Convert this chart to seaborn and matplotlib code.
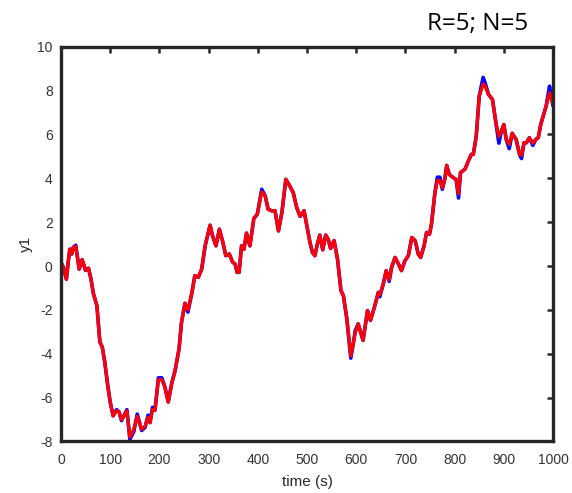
import pandas as pd
import seaborn as sns
import matplotlib.pyplot as plt

# time samples (s)
time_s = [0, 5, 11, 15, 18, 22, 25, 30, 37, 43, 50, 56, 61, 66, 73, 79, 84, 89, 95, 100,
          106, 113, 118, 123, 134, 140, 148, 155, 164, 171, 177, 181, 186, 191, 198, 205, 211, 218, 225, 232,
          240, 245, 252, 258, 266, 272, 279, 286, 293, 303, 308, 315, 322, 329, 335, 342, 349, 354, 358, 362,
          367, 372, 377, 384, 392, 399, 408, 415, 421, 428, 435, 442, 449, 457, 465, 472, 479, 486, 494, 499,
          506, 511, 516, 521, 526, 532, 538, 543, 548, 555, 562, 569, 574, 581, 589, 594, 598, 604, 609, 614,
          623, 629, 637, 645, 648, 655, 661, 667, 672, 679, 686, 692, 699, 706, 713, 720, 726, 731, 738, 743,
          749, 753, 760, 765, 770, 775, 780, 784, 789, 797, 803, 808, 812, 821, 828, 834, 838, 844, 850, 858,
          862, 869, 877, 884, 890, 895, 900, 905, 911, 917, 925, 932, 936, 941, 946, 952, 959, 965, 970, 975,
          980, 986, 993, 995, 1000]

# blue trace
y1_blue = [0.17, -0.06, -0.6, 0.24, 0.77, 0.55, 0.85, 0.95, -0.14, 0.29, -0.2, -0.1, -0.6, -1.27, -1.8, -3.46, -3.7, -4.38, -5.44, -6.2,
           -6.83, -6.55, -6.65, -7.05, -6.55, -7.9, -7.55, -6.75, -7.5, -7.35, -6.8, -7.14, -6.45, -6.58, -5.1, -5.1, -5.5, -6.2, -5.36, -4.76,
           -3.77, -2.56, -1.7, -2.1, -1.23, -0.44, -0.52, -0.14, 0.92, 1.86, 1.38, 0.92, 1.68, 1.08, 0.47, 0.55, 0.17, 0.09, -0.29, -0.29,
           0.92, 0.77, 1.5, 0.92, 2.17, 2.36, 3.5, 3.2, 2.59, 2.52, 2.52, 1.6, 2.44, 3.95, 3.65, 3.35, 2.67, 2.26, 2.52, 1.91,
           1.08, 0.62, 0.47, 1.0, 1.41, 0.74, 1.41, 1.23, 0.8, 1.16, 0.32, -1.12, -1.35, -2.41, -4.2, -3.55, -2.95, -2.64, -3.02, -3.39,
           -2.03, -2.48, -1.88, -1.2, -1.4, -0.82, -0.21, -0.7, -0.06, 0.39, 0.09, -0.21, 0.24, 0.47, 1.3, 1.15, 0.55, 0.39, 0.92, 1.53,
           1.45, 1.91, 3.35, 4.05, 4.05, 3.5, 3.95, 4.59, 4.18, 4.03, 3.95, 3.1, 4.26, 4.41, 4.79, 5.09, 5.09, 5.92, 7.74, 8.6,
           8.35, 7.82, 7.59, 6.53, 5.6, 6.15, 6.45, 5.77, 5.35, 6.05, 5.77, 5.09, 4.9, 5.62, 5.62, 5.85, 5.5, 5.77, 5.85, 6.45,
           6.83, 7.29, 8.2, 7.9, 7.3]

# red trace
y1_red = [0.17, -0.06, -0.6, 0.24, 0.77, 0.55, 0.85, 0.9, -0.14, 0.29, -0.2, -0.1, -0.6, -1.27, -1.8, -3.46, -3.7, -4.38, -5.44, -6.2,
          -6.83, -6.6, -6.65, -7.0, -6.6, -7.8, -7.45, -6.85, -7.45, -7.3, -6.9, -7.14, -6.55, -6.58, -5.18, -5.18, -5.5, -6.2, -5.36, -4.76,
          -3.77, -2.56, -1.7, -2.0, -1.23, -0.44, -0.52, -0.14, 0.92, 1.86, 1.38, 0.92, 1.68, 1.08, 0.47, 0.55, 0.17, 0.09, -0.29, -0.29,
          0.92, 0.77, 1.5, 0.92, 2.17, 2.36, 3.38, 3.2, 2.59, 2.52, 2.52, 1.6, 2.44, 3.95, 3.65, 3.35, 2.67, 2.26, 2.52, 1.91,
          1.08, 0.62, 0.47, 1.0, 1.41, 0.74, 1.41, 1.23, 0.8, 1.16, 0.32, -1.12, -1.35, -2.41, -4.1, -3.55, -3.05, -2.64, -3.02, -3.39,
          -2.03, -2.48, -1.88, -1.2, -1.3, -0.82, -0.21, -0.64, -0.06, 0.39, 0.09, -0.21, 0.24, 0.47, 1.3, 1.15, 0.55, 0.39, 0.92, 1.53,
          1.45, 1.91, 3.35, 3.9, 3.9, 3.56, 3.95, 4.59, 4.18, 4.03, 3.95, 3.3, 4.26, 4.41, 4.79, 5.09, 5.09, 5.92, 7.74, 8.3,
          8.2, 7.82, 7.59, 6.53, 5.9, 6.15, 6.45, 5.77, 5.55, 6.05, 5.77, 5.09, 5.05, 5.62, 5.62, 5.85, 5.6, 5.77, 5.85, 6.45,
          6.83, 7.29, 7.9, 7.75, 7.4]

df = pd.DataFrame({'time': time_s, 'blue': y1_blue, 'red': y1_red})

sns.set_style('white')
plt.rcParams['font.family'] = ['Liberation Sans', 'DejaVu Sans']
plt.rcParams['axes.unicode_minus'] = False

fig = plt.figure(figsize=(5.72, 4.93), dpi=100)
ax = fig.add_axes([0.1066, 0.1045, 0.8602, 0.8008])

sns.lineplot(data=df, x='time', y='blue', color='#0000ff', linewidth=2.6, ax=ax,
             solid_joinstyle='round', solid_capstyle='round')
sns.lineplot(data=df, x='time', y='red', color='#ff0000', linewidth=2.4, ax=ax,
             solid_joinstyle='round', solid_capstyle='round')

ax.set_xlim(0, 1000)
ax.set_ylim(-8, 10)
ax.set_xticks(range(0, 1001, 100))
ax.set_yticks(range(-8, 11, 2))
ax.set_xlabel('time (s)', fontsize=11, color='#262626', labelpad=6)
ax.set_ylabel('y1', fontsize=11, color='#262626', labelpad=3)
ax.tick_params(direction='in', length=4, width=1.8, colors='#262626', labelsize=10,
               top=True, right=True, labelcolor='#333333')
ax.tick_params(axis='x', pad=8)
ax.tick_params(axis='y', pad=6)
for sp in ax.spines.values():
    sp.set_visible(True)
    sp.set_color('#262626')
    sp.set_linewidth(2.4)

fig.text(0.835, 0.952, 'R=5; N=5', ha='center', va='center', fontsize=17.5,
         family=['Open Sans', 'DejaVu Sans'], color='black')

fig.savefig('out.png', dpi=100)
